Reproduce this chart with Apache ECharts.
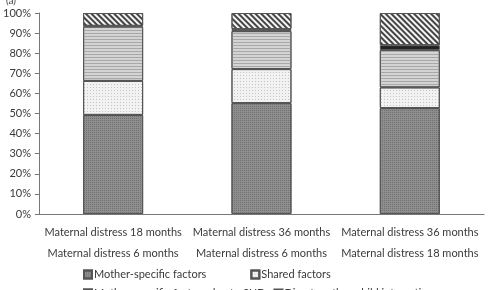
<!DOCTYPE html>
<html>
<head>
<meta charset="utf-8">
<script src="https://cdn.jsdelivr.net/npm/echarts@6/dist/echarts.min.js"></script>
<style>
  html, body { margin: 0; padding: 0; background: #fff; }
  #chart { width: 488px; height: 290px; }
</style>
</head>
<body>
<div id="chart"></div>
<script>
// 类别（两行标签）
const rowTop = ['Maternal distress 18 months', 'Maternal distress 36 months', 'Maternal distress 36 months'];
const rowBottom = ['Maternal distress 6 months', 'Maternal distress 6 months', 'Maternal distress 18 months'];

// 各组成部分的百分比
const motherSpecific = [49.3, 55.2, 52.7];
const sharedFactors = [16.9, 16.9, 10.3];
const motherSUD = [27.0, 18.9, 18.6];
const directInteraction = [0.4, 1.0, 2.4];
const otherFactors = [6.4, 8.0, 16.0];

const yTicks = ['0%', '10%', '20%', '30%', '40%', '50%', '60%', '70%', '80%', '90%', '100%'];

const labels = rowTop.map((t, i) => t + '\n' + rowBottom[i]);
const font = 'Lato, "Open Sans", sans-serif';
const txt = '#3a3a3a';
const border = { borderColor: '#555', borderWidth: 1 };

const chart = echarts.init(document.getElementById('chart'));
chart.setOption({
  animation: false,
  textStyle: { fontFamily: font },
  title: { text: '(a)', left: 1, top: -9, textStyle: { fontSize: 10, fontWeight: 'normal', color: txt, fontFamily: font } },
  grid: { left: 35, right: 4, top: 13, bottom: 76 },
  legend: [
    {
      data: ['Mother-specific factors', 'Shared factors'],
      left: 78, top: 264, icon: 'rect', itemWidth: 8, itemHeight: 8, itemGap: 44,
      textStyle: { fontSize: 11, color: txt, padding: [0, 0, 0, -3] }
    },
    {
      data: ['Mother-specific factors due to SUD', 'Direct mother-child interaction'],
      left: 78, top: 283, icon: 'rect', itemWidth: 8, itemHeight: 8, itemGap: 8,
      textStyle: { fontSize: 11, color: txt, padding: [0, 0, 0, -3] }
    }
  ],
  xAxis: {
    type: 'category',
    data: labels,
    axisLine: { lineStyle: { color: '#777' } },
    axisTick: { length: 42, lineStyle: { color: '#777' } },
    axisLabel: { color: txt, fontSize: 11, lineHeight: 21, margin: 8, interval: 0 }
  },
  yAxis: {
    type: 'value', min: 0, max: 100, interval: 10,
    axisLine: { show: true, lineStyle: { color: '#777' } },
    axisTick: { show: true, length: 4, lineStyle: { color: '#777' } },
    splitLine: { show: false },
    axisLabel: { color: txt, fontSize: 11, margin: 8, formatter: v => yTicks[v / 10] }
  },
  series: [
    {
      name: 'Mother-specific factors', type: 'bar', stack: 'a', barWidth: 60, data: motherSpecific,
      itemStyle: Object.assign({ color: '#8e8e8e', decal: { symbol: 'rect', symbolSize: 1, dashArrayX: [1, 1], dashArrayY: [1, 1], color: 'rgba(60,60,60,0.35)' } }, border)
    },
    {
      name: 'Shared factors', type: 'bar', stack: 'a', data: sharedFactors,
      itemStyle: Object.assign({ color: '#f2f2f2', decal: { symbol: 'rect', symbolSize: 1, dashArrayX: [1, 2], dashArrayY: [1, 2], color: 'rgba(150,150,150,0.5)' } }, border)
    },
    {
      name: 'Mother-specific factors due to SUD', type: 'bar', stack: 'a', data: motherSUD,
      itemStyle: Object.assign({ color: '#d4d4d4', decal: { symbol: 'rect', symbolSize: 1, dashArrayX: [[1, 0]], dashArrayY: [1, 2], color: '#a8a8a8' } }, border)
    },
    {
      name: 'Direct mother-child interaction', type: 'bar', stack: 'a', data: directInteraction,
      itemStyle: Object.assign({ color: '#222' }, border)
    },
    {
      name: 'Other', type: 'bar', stack: 'a', data: otherFactors,
      itemStyle: Object.assign({ color: '#f4f4f4', decal: { symbol: 'rect', symbolSize: 1, dashArrayX: [[1, 0]], dashArrayY: [1.5, 1.5], rotation: Math.PI / 4, color: '#444' } }, border)
    }
  ]
});
</script>
</body>
</html>
